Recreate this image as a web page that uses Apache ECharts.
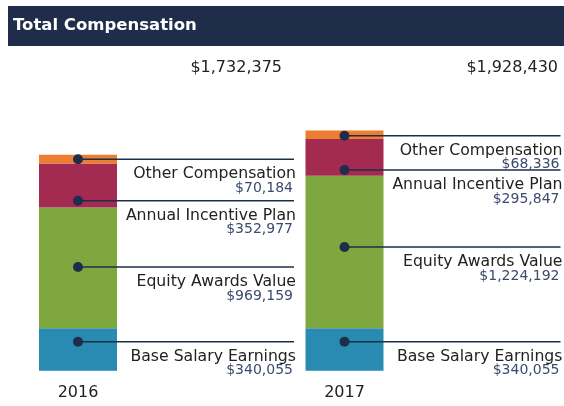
<!DOCTYPE html>
<html><head><meta charset="utf-8">
<script src="https://cdn.jsdelivr.net/npm/echarts@6/dist/echarts.min.js"></script>
<style>html,body{margin:0;padding:0;background:#fff}#c{width:564px;height:406px}</style>
</head><body><div id="c"></div>
<script>
const years = ['2016', '2017'];
const componentNames = ['Base Salary Earnings', 'Equity Awards Value', 'Annual Incentive Plan', 'Other Compensation'];
const baseSalary = [340055, 340055];
const equityAwards = [969159, 1224192];
const incentivePlan = [352977, 295847];
const otherComp = [70184, 68336];
// callout dot levels (data units)
const calloutBase = [233000, 233000];
const calloutEquity = [832000, 993000];
const calloutIncentive = [1364000, 1611000];
const calloutOther = [1697000, 1886000];

const colors = ['#2A8BB2', '#7FA740', '#A32B52', '#ED7D31'];
const navy = '#1F2D4B';
const FONT = '"DejaVu Sans", sans-serif';
const fmt = v => '$' + String(v).replace(/\B(?=(\d{3})+(?!\d))/g, ',');

const seriesVals = [baseSalary, equityAwards, incentivePlan, otherComp];
const calloutVals = [calloutBase, calloutEquity, calloutIncentive, calloutOther];
const totals = years.map((y, i) => seriesVals.reduce((s, a) => s + a[i], 0));

const calloutData = [];
const calloutMeta = [];
years.forEach((y, i) => {
  componentNames.forEach((n, k) => {
    calloutData.push([i, calloutVals[k][i]]);
    calloutMeta.push({ name: n, amount: fmt(seriesVals[k][i]) });
  });
});

const chart = echarts.init(document.getElementById('c'), null, { renderer: 'canvas' });
chart.setOption({
  animation: false,
  grid: { left: 78, right: 219.5, top: 121.5, bottom: 35.3, containLabel: false },
  xAxis: {
    type: 'category', data: years, boundaryGap: false,
    axisLine: { show: false }, axisTick: { show: false },
    axisLabel: { margin: 14, fontSize: 16, color: '#222', fontFamily: FONT }
  },
  yAxis: { type: 'value', min: 0, max: 2000000, show: false, splitLine: { show: false } },
  graphic: [
    { type: 'rect', shape: { x: 8, y: 6, width: 556, height: 40 }, style: { fill: navy }, z: 10 },
    { type: 'text', x: 13, y: 26, style: { text: 'Total Compensation', fill: '#fff', font: 'bold 16.5px "DejaVu Sans", sans-serif', verticalAlign: 'middle' }, z: 11 }
  ],
  series: [
    ...componentNames.map((n, k) => ({
      type: 'bar', name: n, stack: 'total', barWidth: 78,
      data: seriesVals[k], itemStyle: { color: colors[k] }, z: 2
    })),
    {
      type: 'custom', clip: false, z: 5,
      data: calloutData,
      renderItem: (params, api) => {
        const p = api.coord([api.value(0), api.value(1)]);
        const m = calloutMeta[params.dataIndex];
        return {
          type: 'group', children: [
            { type: 'line', shape: { x1: p[0], y1: p[1], x2: p[0] + 216, y2: p[1] }, style: { stroke: navy, lineWidth: 1.5 } },
            { type: 'circle', shape: { cx: p[0], cy: p[1], r: 5 }, style: { fill: navy } },
            { type: 'text', style: { x: p[0] + 218, y: p[1] + 15, text: m.name, align: 'right', verticalAlign: 'middle', fill: '#222', font: '15.7px ' + FONT } },
            { type: 'text', style: { x: p[0] + 215, y: p[1] + 29, text: m.amount, align: 'right', verticalAlign: 'middle', fill: '#3B4A6E', font: '14px ' + FONT } }
          ]
        };
      }
    },
    {
      type: 'custom', clip: false, z: 5,
      data: totals.map((t, i) => [i, t]),
      renderItem: (params, api) => {
        const p = api.coord([api.value(0), api.value(1)]);
        const off = [204, 213.5][params.dataIndex];
        return { type: 'text', style: { x: p[0] + off, y: 68, text: fmt(api.value(1)), align: 'right', verticalAlign: 'middle', fill: '#222', font: '16px ' + FONT } };
      }
    }
  ]
});
</script></body></html>
